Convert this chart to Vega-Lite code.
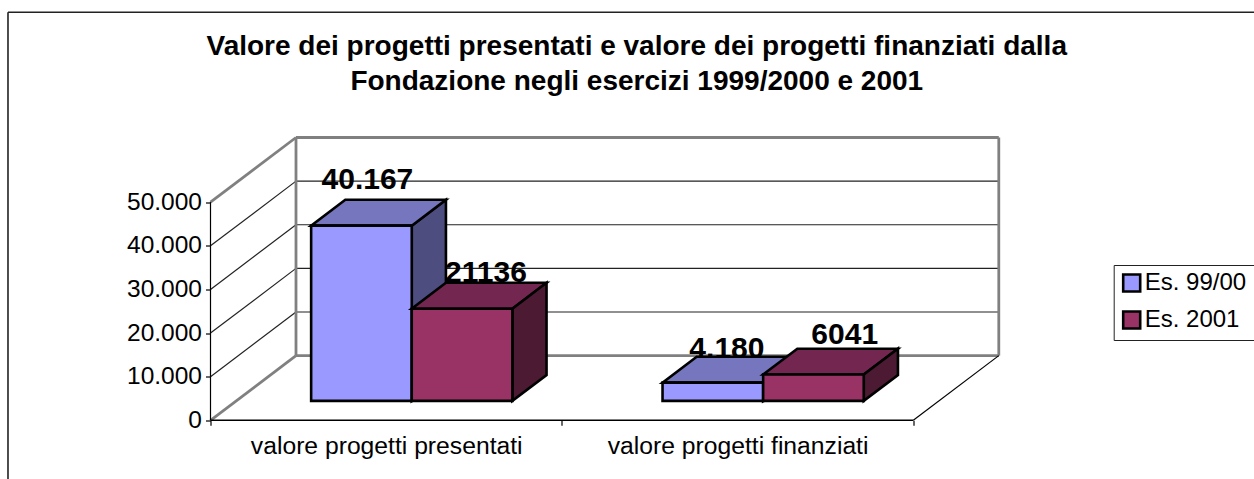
{
"$schema":"https://vega.github.io/schema/vega-lite/v6.json",
"width":788.5,"height":282.8,
"autosize":{"type":"none"},
"padding":{"left":210.5,"top":137.5,"right":255,"bottom":58.7},
"background":"white",
"config":{"view":{"stroke":null},"font":"Liberation Sans"},
"title":{"text":["Valore dei progetti presentati e valore dei progetti finanziati dalla","Fondazione negli esercizi 1999/2000 e 2001"],"font":"Liberation Sans","fontSize":28,"fontWeight":"bold","color":"black","anchor":"middle","frame":"group","dx":32,"offset":-85,"lineHeight":35},
"data":{"values":[
{"categoria":"valore progetti presentati","esercizio":"Es. 99/00","valore":40167,"etichetta":"40.167"},
{"categoria":"valore progetti presentati","esercizio":"Es. 2001","valore":21136,"etichetta":"21136"},
{"categoria":"valore progetti finanziati","esercizio":"Es. 99/00","valore":4180,"etichetta":"4.180"},
{"categoria":"valore progetti finanziati","esercizio":"Es. 2001","valore":6041,"etichetta":"6041"}
]},
"transform":[
{"calculate":"(datum.categoria=='valore progetti presentati'?0:1)+0.073+0.2134+(datum.esercizio=='Es. 99/00'?0:0.2863)","as":"xa"},
{"calculate":"datum.xa+0.2863","as":"xb"},
{"calculate":"4447","as":"yb"},
{"calculate":"datum.yb+datum.valore","as":"yt"},
{"calculate":"(datum.xa+datum.xb)/2+{'40.167':0.017,'21136':0.068,'4.180':0.04,'6041':0.089}[datum.etichetta]","as":"lx"},
{"calculate":"datum.yt+{'40.167':8480,'21136':6210,'4.180':5730,'6041':6990}[datum.etichetta]","as":"ly"}
],
"layer":[
{"data":{"values":[{"valore":0},{"valore":50000}]},
 "transform":[{"calculate":"datum.valore+14822","as":"vb"}],
 "mark":{"type":"rule","stroke":"#808080","strokeWidth":2.8},
 "encoding":{
  "x":{"datum":0,"type":"quantitative","scale":{"domain":[0,2.2439],"nice":false,"zero":false},
   "axis":{"title":null,"domain":false,"grid":false,"values":[0,0.5,1,1.5,2],"tickColor":"black","tickSize":5,"tickWidth":1.2,
    "tickOpacity":{"condition":{"test":"datum.value==0.5||datum.value==1.5","value":0},"value":1},
    "labelExpr":"datum.value==0.5?'valore progetti presentati':datum.value==1.5?'valore progetti finanziati':''","labelFont":"Liberation Sans","labelFontSize":24.7,"labelColor":"black","labelPadding":8,"labelFlush":false,"labelOverlap":false,"labelLimit":500}},
  "x2":{"datum":0.2433},
  "y":{"field":"valore","type":"quantitative","scale":{"domain":[0,64822],"nice":false,"zero":false},
   "axis":{"title":null,"domain":false,"grid":false,"values":[0,10000,20000,30000,40000,50000],"tickColor":"black","tickSize":5,"tickWidth":1.2,
    "labelExpr":"replace(format(datum.value,','),',','.')","labelFont":"Liberation Sans","labelFontSize":24.5,"labelColor":"black","labelPadding":4,"labelOverlap":false}},
  "y2":{"field":"vb"}}},
{"data":{"values":[{"valore":0},{"valore":50000}]},
 "transform":[{"calculate":"datum.valore+14822","as":"vb"}],
 "mark":{"type":"rule","stroke":"#808080","strokeWidth":2.8},
 "encoding":{
  "x":{"datum":0.2433,"type":"quantitative","scale":{"domain":[0,2.2439],"nice":false,"zero":false}},
  "x2":{"datum":2.2433},
  "y":{"field":"vb","type":"quantitative","scale":{"domain":[0,64822],"nice":false,"zero":false}}}},
{"data":{"values":[{"valore":10000},{"valore":20000},{"valore":30000},{"valore":40000}]},
 "transform":[{"calculate":"datum.valore+14822","as":"vb"}],
 "layer":[
 {"mark":{"type":"rule","stroke":"#222222","strokeWidth":1.2},
  "encoding":{"x":{"datum":0,"type":"quantitative","scale":{"domain":[0,2.2439],"nice":false,"zero":false}},"x2":{"datum":0.2433},
   "y":{"field":"valore","type":"quantitative","scale":{"domain":[0,64822],"nice":false,"zero":false}},"y2":{"field":"vb"}}},
 {"mark":{"type":"rule","stroke":"#222222","strokeWidth":1.2},
  "encoding":{"x":{"datum":0.2433,"type":"quantitative","scale":{"domain":[0,2.2439],"nice":false,"zero":false}},"x2":{"datum":2.2433},
   "y":{"field":"vb","type":"quantitative","scale":{"domain":[0,64822],"nice":false,"zero":false}}}}
 ]},
{"data":{"values":[{"posizione":0.2433},{"posizione":2.2433}]},
 "mark":{"type":"rule","stroke":"#808080","strokeWidth":2.8},
 "encoding":{"x":{"field":"posizione","type":"quantitative","scale":{"domain":[0,2.2439],"nice":false,"zero":false}},
  "y":{"datum":14822,"type":"quantitative","scale":{"domain":[0,64822],"nice":false,"zero":false}},"y2":{"datum":64822}}},
{"data":{"values":[{"valore":0}]},
 "layer":[
 {"mark":{"type":"rule","stroke":"black","strokeWidth":1.2},
  "encoding":{"x":{"datum":0,"type":"quantitative","scale":{"domain":[0,2.2439],"nice":false,"zero":false}},
   "y":{"datum":0,"type":"quantitative","scale":{"domain":[0,64822],"nice":false,"zero":false}},"y2":{"datum":50000}}},
 {"mark":{"type":"rule","stroke":"black","strokeWidth":1.5},
  "encoding":{"x":{"datum":0,"type":"quantitative","scale":{"domain":[0,2.2439],"nice":false,"zero":false}},"x2":{"datum":2},
   "y":{"datum":0,"type":"quantitative","scale":{"domain":[0,64822],"nice":false,"zero":false}}}},
 {"mark":{"type":"rule","stroke":"black","strokeWidth":1.2},
  "encoding":{"x":{"datum":2,"type":"quantitative","scale":{"domain":[0,2.2439],"nice":false,"zero":false}},"x2":{"datum":2.2433},
   "y":{"datum":0,"type":"quantitative","scale":{"domain":[0,64822],"nice":false,"zero":false}},"y2":{"datum":14822}}},
 {"mark":{"type":"rule","stroke":"#222222","strokeWidth":1.6},
  "encoding":{"x":{"datum":-0.5763,"type":"quantitative","scale":{"domain":[0,2.2439],"nice":false,"zero":false}},
   "y":{"datum":-13450,"type":"quantitative","scale":{"domain":[0,64822],"nice":false,"zero":false}},"y2":{"datum":93541}}},
 {"mark":{"type":"rule","stroke":"#222222","strokeWidth":1.6},
  "encoding":{"x":{"datum":-0.5763,"type":"quantitative","scale":{"domain":[0,2.2439],"nice":false,"zero":false}},"x2":{"datum":2.98},
   "y":{"datum":93541,"type":"quantitative","scale":{"domain":[0,64822],"nice":false,"zero":false}}}}
 ]},
{"transform":[{"filter":"datum.esercizio=='Es. 99/00'"},{"calculate":"[0,1]","as":"t"},{"flatten":["t"]},{"calculate":"datum.xb+datum.t*0.0973","as":"sx"},{"calculate":"datum.yt+datum.t*5929","as":"sy"},{"calculate":"datum.yb+datum.t*5929","as":"sy2"}],
 "mark":{"type":"area","fill":"#4D4D80","stroke":"black","strokeWidth":2.6,"strokeJoin":"miter","opacity":1,"fillOpacity":1},
 "encoding":{"x":{"field":"sx","type":"quantitative","scale":{"domain":[0,2.2439],"nice":false,"zero":false}},
  "y":{"field":"sy","type":"quantitative","scale":{"domain":[0,64822],"nice":false,"zero":false},"stack":null},"y2":{"field":"sy2"},"detail":{"field":"etichetta"}}},
{"mark":{"type":"text","font":"Liberation Sans","fontSize":30,"fontWeight":"bold","color":"black","align":"center","baseline":"alphabetic"},
 "encoding":{"x":{"field":"lx","type":"quantitative","scale":{"domain":[0,2.2439],"nice":false,"zero":false}},
  "y":{"field":"ly","type":"quantitative","scale":{"domain":[0,64822],"nice":false,"zero":false}},
  "text":{"field":"etichetta","type":"nominal"}}},
{"transform":[{"filter":"datum.esercizio=='Es. 99/00'"},{"calculate":"[0,1]","as":"t"},{"flatten":["t"]},{"calculate":"datum.xa+datum.t*0.0973","as":"tx"},{"calculate":"datum.xb+datum.t*0.0973","as":"tx2"},{"calculate":"datum.yt+datum.t*5929","as":"ty"}],
 "mark":{"type":"area","orient":"horizontal","fill":"#7676BF","stroke":"black","strokeWidth":2.6,"strokeJoin":"miter","fillOpacity":1,"opacity":1},
 "encoding":{"y":{"field":"ty","type":"quantitative","scale":{"domain":[0,64822],"nice":false,"zero":false}},
  "x":{"field":"tx","type":"quantitative","scale":{"domain":[0,2.2439],"nice":false,"zero":false},"stack":null},"x2":{"field":"tx2"},"detail":{"field":"etichetta"}}},
{"transform":[{"filter":"datum.esercizio=='Es. 99/00'"}],
 "mark":{"type":"rect","stroke":"black","strokeWidth":2.6},
 "encoding":{"x":{"field":"xa","type":"quantitative","scale":{"domain":[0,2.2439],"nice":false,"zero":false}},"x2":{"field":"xb"},
  "y":{"field":"yb","type":"quantitative","scale":{"domain":[0,64822],"nice":false,"zero":false}},"y2":{"field":"yt"},
  "color":{"field":"esercizio","type":"nominal","scale":{"domain":["Es. 99/00","Es. 2001"],"range":["#9999FF","#993366"]},
   "legend":{"title":" ","titleOrient":"right","titlePadding":14,"titleFontSize":2,"orient":"none","legendX":903.2,"legendY":127.5,"padding":6,"strokeColor":"#222222","fillColor":"white","symbolType":"square","symbolSize":289,"symbolStrokeColor":"black","symbolStrokeWidth":2.6,"symbolOpacity":1,"labelFont":"Liberation Sans","labelFontSize":24,"labelColor":"black","labelOffset":1,"rowPadding":9,"labelLimit":300}}}},
{"transform":[{"filter":"datum.esercizio=='Es. 2001'"},{"calculate":"[0,1]","as":"t"},{"flatten":["t"]},{"calculate":"datum.xa+datum.t*0.0973","as":"tx"},{"calculate":"datum.xb+datum.t*0.0973","as":"tx2"},{"calculate":"datum.yt+datum.t*5929","as":"ty"}],
 "mark":{"type":"area","orient":"horizontal","fill":"#732650","stroke":"black","strokeWidth":2.6,"strokeJoin":"miter","fillOpacity":1,"opacity":1},
 "encoding":{"y":{"field":"ty","type":"quantitative","scale":{"domain":[0,64822],"nice":false,"zero":false}},
  "x":{"field":"tx","type":"quantitative","scale":{"domain":[0,2.2439],"nice":false,"zero":false},"stack":null},"x2":{"field":"tx2"},"detail":{"field":"etichetta"}}},
{"transform":[{"filter":"datum.esercizio=='Es. 2001'"},{"calculate":"[0,1]","as":"t"},{"flatten":["t"]},{"calculate":"datum.xb+datum.t*0.0973","as":"sx"},{"calculate":"datum.yt+datum.t*5929","as":"sy"},{"calculate":"datum.yb+datum.t*5929","as":"sy2"}],
 "mark":{"type":"area","fill":"#4D1A33","stroke":"black","strokeWidth":2.6,"strokeJoin":"miter","opacity":1,"fillOpacity":1},
 "encoding":{"x":{"field":"sx","type":"quantitative","scale":{"domain":[0,2.2439],"nice":false,"zero":false}},
  "y":{"field":"sy","type":"quantitative","scale":{"domain":[0,64822],"nice":false,"zero":false},"stack":null},"y2":{"field":"sy2"},"detail":{"field":"etichetta"}}},
{"transform":[{"filter":"datum.esercizio=='Es. 2001'"}],
 "mark":{"type":"rect","stroke":"black","strokeWidth":2.6},
 "encoding":{"x":{"field":"xa","type":"quantitative","scale":{"domain":[0,2.2439],"nice":false,"zero":false}},"x2":{"field":"xb"},
  "y":{"field":"yb","type":"quantitative","scale":{"domain":[0,64822],"nice":false,"zero":false}},"y2":{"field":"yt"},
  "color":{"field":"esercizio","type":"nominal","scale":{"domain":["Es. 99/00","Es. 2001"],"range":["#9999FF","#993366"]},"legend":{"title":" ","titleOrient":"right","titlePadding":14,"titleFontSize":2,"orient":"none","legendX":903.2,"legendY":127.5,"padding":6,"strokeColor":"#222222","fillColor":"white","symbolType":"square","symbolSize":289,"symbolStrokeColor":"black","symbolStrokeWidth":2.6,"symbolOpacity":1,"labelFont":"Liberation Sans","labelFontSize":24,"labelColor":"black","labelOffset":1,"rowPadding":9,"labelLimit":300}}}}
]
}
